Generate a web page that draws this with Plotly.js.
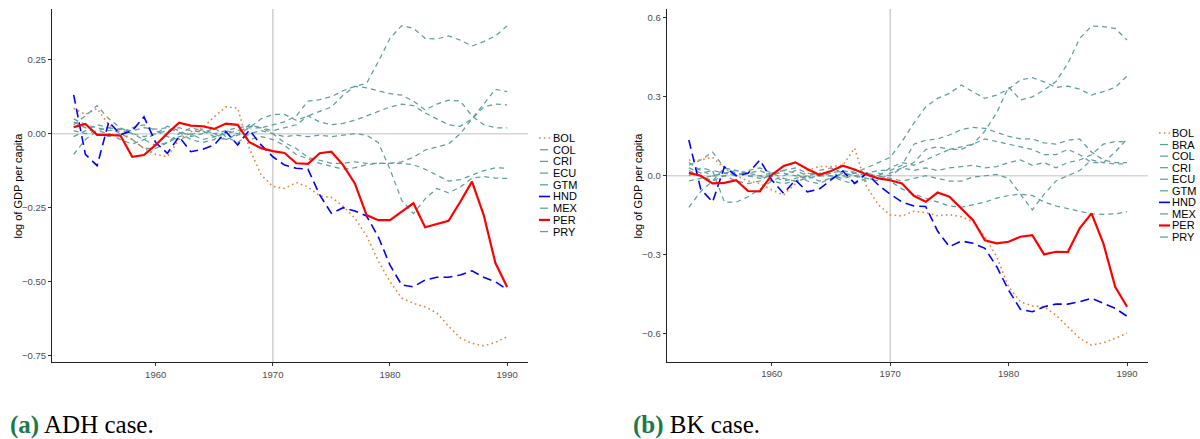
<!DOCTYPE html>
<html><head><meta charset="utf-8">
<script src="https://cdn.plot.ly/plotly-3.0.1.min.js"></script>
<style>html,body{margin:0;padding:0;background:#fff}#chart{width:1200px;height:439px}</style>
</head><body><div id="chart"></div>
<script>
const years = [1953,1954,1955,1956,1957,1958,1959,1960,1961,1962,1963,1964,1965,1966,1967,1968,1969,1970,1971,1972,1973,1974,1975,1976,1977,1978,1979,1980,1981,1982,1983,1984,1985,1986,1987,1988,1989,1990];

// ---------- Panel (a): ADH case ----------
const adhCountries = ['BOL','COL','CRI','ECU','GTM','HND','MEX','PER','PRY'];
const adhBOL = [0.086,0.065,0.085,0.03,0.005,-0.02,-0.05,-0.07,-0.078,-0.02,0.006,0.02,0.057,0.091,0.086,-0.05,-0.139,-0.178,-0.185,-0.165,-0.18,-0.21,-0.215,-0.245,-0.285,-0.345,-0.43,-0.5,-0.555,-0.573,-0.585,-0.605,-0.65,-0.69,-0.708,-0.716,-0.705,-0.686];
const adhCOL = [0.05,0.03,0.02,0.01,0.015,0.0,-0.01,0.0,0.01,0.02,0.01,0.005,0.0,0.01,0.02,0.025,0.02,0.01,0.02,0.03,0.06,0.04,0.03,0.035,0.045,0.06,0.075,0.09,0.1,0.095,0.07,0.05,0.03,0.025,0.05,0.09,0.1,0.097];
const adhCRI = [0.03,0.06,0.095,0.05,0.02,0.0,-0.02,-0.04,-0.03,-0.01,0.0,-0.02,-0.01,0.0,0.01,0.02,0.02,0.0,-0.03,-0.05,-0.08,-0.09,-0.1,-0.1,-0.095,-0.1,-0.1,-0.1,-0.095,-0.08,-0.055,-0.045,-0.035,0.0,0.05,0.1,0.15,0.142];
const adhECU = [-0.07,-0.02,0.01,0.02,0.015,0.01,0.02,0.015,0.02,0.005,-0.02,-0.03,-0.02,0.01,0.0,-0.02,-0.01,-0.02,-0.04,-0.07,-0.085,-0.1,-0.11,-0.12,-0.115,-0.105,-0.1,-0.1,-0.1,-0.105,-0.12,-0.14,-0.16,-0.155,-0.14,-0.125,-0.115,-0.117];
const adhGTM = [0.01,0.0,0.01,0.0,-0.02,-0.035,-0.02,0.0,0.025,0.01,-0.01,0.0,0.02,-0.01,-0.03,0.0,0.01,0.0,-0.01,-0.005,-0.01,-0.005,-0.01,-0.005,0.0,-0.005,-0.03,-0.12,-0.225,-0.27,-0.22,-0.185,-0.2,-0.18,-0.15,-0.145,-0.15,-0.151];
const adhHND = [0.131,-0.07,-0.108,0.04,-0.003,0.01,0.057,-0.03,-0.066,-0.01,-0.061,-0.053,-0.038,0.007,-0.038,0.012,-0.038,-0.078,-0.106,-0.117,-0.12,-0.207,-0.269,-0.25,-0.261,-0.278,-0.348,-0.444,-0.511,-0.517,-0.494,-0.485,-0.485,-0.477,-0.463,-0.485,-0.5,-0.526];
const adhMEX = [0.04,0.02,0.0,-0.01,0.0,0.02,0.03,0.01,-0.01,-0.02,-0.005,0.015,0.0,-0.02,0.0,0.03,0.02,0.03,0.04,0.06,0.11,0.115,0.125,0.145,0.16,0.17,0.243,0.322,0.365,0.356,0.322,0.32,0.33,0.316,0.296,0.311,0.33,0.364];
const adhPER = [0.022,0.033,-0.004,-0.004,-0.007,-0.078,-0.072,-0.038,0.001,0.037,0.027,0.025,0.016,0.034,0.03,-0.029,-0.049,-0.059,-0.065,-0.1,-0.102,-0.066,-0.061,-0.106,-0.168,-0.275,-0.292,-0.292,-0.263,-0.235,-0.316,-0.306,-0.294,-0.23,-0.162,-0.275,-0.437,-0.518];
const adhPRY = [-0.01,0.01,0.03,0.02,0.0,-0.02,-0.05,-0.05,-0.03,0.0,0.02,0.01,-0.01,-0.02,-0.005,0.02,0.05,0.065,0.065,0.045,0.06,0.075,0.09,0.13,0.16,0.155,0.145,0.135,0.13,0.11,0.08,0.1,0.113,0.11,0.06,0.03,0.02,0.02];

// ---------- Panel (b): BK case ----------
const bkCountries = ['BOL','BRA','COL','CRI','ECU','GTM','HND','MEX','PER','PRY'];
const bkBOL = [0.06,0.06,0.07,0.03,0.0,-0.02,-0.03,-0.054,-0.073,-0.03,0.02,0.035,0.035,0.04,0.105,-0.04,-0.11,-0.149,-0.153,-0.135,-0.14,-0.152,-0.148,-0.156,-0.175,-0.232,-0.308,-0.422,-0.479,-0.495,-0.498,-0.53,-0.574,-0.618,-0.644,-0.635,-0.618,-0.599];
const bkBRA = [0.02,0.0,-0.02,0.0,0.01,0.0,-0.01,0.0,0.02,0.03,0.01,0.0,0.01,0.02,0.01,0.03,0.05,0.07,0.13,0.2,0.262,0.294,0.313,0.345,0.319,0.294,0.307,0.33,0.364,0.373,0.357,0.336,0.341,0.329,0.307,0.32,0.336,0.379];
const bkCOL = [0.04,0.06,0.09,0.03,0.01,0.0,0.0,0.01,0.01,0.0,-0.01,0.0,0.0,-0.01,0.0,0.01,0.02,0.02,0.04,0.12,0.135,0.14,0.155,0.175,0.184,0.18,0.165,0.15,0.14,0.14,0.125,0.12,0.135,0.14,0.09,0.06,0.05,0.05];
const bkCRI = [-0.12,-0.06,-0.02,0.03,0.02,0.01,0.02,0.0,-0.02,-0.01,0.0,0.02,0.03,0.01,0.0,-0.02,0.0,-0.01,-0.02,-0.01,0.0,-0.01,-0.02,-0.02,-0.005,0.0,0.005,-0.01,-0.07,-0.13,-0.07,-0.02,0.0,0.02,0.06,0.05,0.045,0.045];
const bkECU = [0.0,0.03,0.02,-0.1,-0.1,-0.08,-0.05,-0.02,0.0,0.02,0.0,-0.02,-0.01,0.0,0.02,0.01,0.0,-0.02,-0.05,-0.07,-0.085,-0.1,-0.115,-0.12,-0.11,-0.1,-0.085,-0.075,-0.07,-0.075,-0.1,-0.115,-0.125,-0.135,-0.145,-0.147,-0.145,-0.137];
const bkGTM = [0.05,0.02,0.0,0.0,-0.02,-0.03,-0.02,0.01,0.02,0.01,-0.02,-0.03,-0.01,0.01,0.0,-0.01,-0.02,0.01,0.03,0.02,0.03,0.02,0.03,0.035,0.04,0.03,0.035,0.05,0.06,0.04,0.05,0.03,0.05,0.06,0.08,0.12,0.13,0.13];
const bkHND = [0.136,-0.05,-0.1,0.034,0.0,0.009,0.06,-0.016,-0.067,-0.016,-0.061,-0.051,-0.016,0.018,-0.029,0.009,-0.035,-0.07,-0.1,-0.115,-0.117,-0.21,-0.27,-0.248,-0.257,-0.276,-0.346,-0.435,-0.508,-0.517,-0.498,-0.488,-0.488,-0.479,-0.466,-0.485,-0.504,-0.534];
const bkMEX = [0.03,0.01,0.02,0.01,0.0,0.02,0.03,0.01,-0.01,-0.02,-0.01,0.0,0.01,-0.005,0.01,0.0,0.0,0.03,0.05,0.04,0.06,0.08,0.1,0.1,0.12,0.17,0.24,0.338,0.288,0.3,0.326,0.358,0.427,0.522,0.569,0.567,0.56,0.516];
const bkPER = [0.011,0.0,-0.029,-0.027,-0.017,-0.058,-0.059,0.003,0.037,0.051,0.026,0.004,0.018,0.038,0.024,0.005,-0.01,-0.017,-0.029,-0.076,-0.099,-0.064,-0.08,-0.124,-0.169,-0.245,-0.257,-0.251,-0.232,-0.226,-0.299,-0.289,-0.29,-0.2,-0.143,-0.257,-0.422,-0.498];
const bkPRY = [-0.02,-0.01,0.0,0.01,0.02,0.01,0.0,-0.02,-0.03,-0.02,0.0,0.01,0.0,-0.02,-0.03,-0.01,0.01,0.0,0.03,0.05,0.1,0.11,0.1,0.11,0.12,0.14,0.13,0.12,0.11,0.1,0.08,0.08,0.1,0.08,0.05,0.05,0.09,0.14];

const yTitle = 'log of GDP per capita';
const adhYTicks = [-0.75,-0.5,-0.25,0,0.25];
const bkYTicks = [-0.6,-0.3,0,0.3,0.6];
const xTicks = [1960,1970,1980,1990];

const adhSeries = {BOL:adhBOL,COL:adhCOL,CRI:adhCRI,ECU:adhECU,GTM:adhGTM,HND:adhHND,MEX:adhMEX,PER:adhPER,PRY:adhPRY};
const bkSeries = {BOL:bkBOL,BRA:bkBRA,COL:bkCOL,CRI:bkCRI,ECU:bkECU,GTM:bkGTM,HND:bkHND,MEX:bkMEX,PER:bkPER,PRY:bkPRY};

// ---------- styles ----------
const TEAL = '#5f9ea0';
function styleOf(c){
  if(c==='BOL') return {color:'#e8823c', dash:'1.6px,3.2px', width:1.6};
  if(c==='HND') return {color:'#0000ff', dash:'9px,5px', width:1.6};
  if(c==='PER') return {color:'#ff0000', dash:'solid', width:2.2};
  return {color:TEAL, dash:'5px,4px', width:1.25};
}
function drawOrder(list){ // teal lines underneath, highlighted on top
  const rank = c => c==='PER'?3 : c==='HND'?2 : c==='BOL'?1 : 0;
  return list.slice().sort((a,b)=>rank(a)-rank(b));
}

const W=1200, H=439;
const fx = p => p/W, fy = p => 1 - p/H;

const traces = [];
drawOrder(adhCountries).forEach(c=>{
  const s=styleOf(c);
  traces.push({x:years, y:adhSeries[c], type:'scatter', mode:'lines', name:c, xaxis:'x', yaxis:'y',
    line:{color:s.color, dash:s.dash, width:s.width}, showlegend:false, hoverinfo:'skip'});
});
drawOrder(bkCountries).forEach(c=>{
  const s=styleOf(c);
  traces.push({x:years, y:bkSeries[c], type:'scatter', mode:'lines', name:c, xaxis:'x2', yaxis:'y2',
    line:{color:s.color, dash:s.dash, width:s.width}, showlegend:false, hoverinfo:'skip'});
});

const FONT = 'Liberation Sans, Arial, sans-serif';
const axisBase = {showgrid:false, zeroline:false, showline:true, linecolor:'#222', linewidth:1.1,
  ticks:'outside', ticklen:3, tickwidth:1, tickcolor:'#333',
  tickfont:{family:FONT, size:9.5, color:'#4d4d4d'}, fixedrange:true};

const shapes = [];
const annotations = [];
// reference lines
[['x','y'],['x2','y2']].forEach(([xa,ya])=>{
  shapes.push({type:'line', xref:xa, yref:ya+' domain', x0:1970, x1:1970, y0:0, y1:1, line:{color:'#cfcfcf', width:1.5}, layer:'below'});
  shapes.push({type:'line', xref:xa+' domain', yref:ya, x0:0, x1:1, y0:0, y1:0, line:{color:'#d6d6d6', width:1.5}, layer:'below'});
});

// y-axis titles placed precisely
annotations.push({xref:'paper', yref:'paper', x:fx(17), y:fy(185.5), xanchor:'center', yanchor:'middle', textangle:-90,
  showarrow:false, text:yTitle, font:{family:FONT, size:11, color:'#000'}});
annotations.push({xref:'paper', yref:'paper', x:fx(637), y:fy(185.5), xanchor:'center', yanchor:'middle', textangle:-90,
  showarrow:false, text:yTitle, font:{family:FONT, size:11, color:'#000'}});

// custom compact legends
function legend(list, symX0, symX1, textX, y0, step){
  list.forEach((c,i)=>{
    const s=styleOf(c), y=y0+i*step;
    let dash=s.dash, x0=symX0, x1=symX1;
    if(c!=='BOL' && c!=='HND' && c!=='PER'){ dash='solid'; x0=symX0+1; x1=symX1-2; }
    if(c==='HND'||c==='PER'){ dash='solid'; }
    shapes.push({type:'line', xref:'paper', yref:'paper', x0:fx(x0), x1:fx(x1), y0:fy(y), y1:fy(y),
      line:{color:s.color, width:s.width, dash:dash}});
    annotations.push({xref:'paper', yref:'paper', x:fx(textX), y:fy(y), xanchor:'left', yanchor:'middle',
      text:c, showarrow:false, font:{family:FONT, size:11, color:'#000'}});
  });
}
legend(adhCountries, 539, 550, 551, 138, 11.7);
legend(bkCountries, 1159, 1170, 1170, 133, 11.56);

// captions
const GREEN = '#1b7a48';
annotations.push({xref:'paper', yref:'paper', x:fx(8), y:fy(425), xanchor:'left', yanchor:'middle', showarrow:false,
  text:'<span style="color:'+GREEN+'"><b>(a)</b></span> ADH case.', font:{family:'Liberation Serif, serif', size:25, color:'#000'}});
annotations.push({xref:'paper', yref:'paper', x:fx(631), y:fy(425), xanchor:'left', yanchor:'middle', showarrow:false,
  text:'<span style="color:'+GREEN+'"><b>(b)</b></span> BK case.', font:{family:'Liberation Serif, serif', size:25, color:'#000'}});

const layout = {
  width:W, height:H, margin:{l:0,r:0,t:0,b:0}, paper_bgcolor:'#fff', plot_bgcolor:'#fff',
  showlegend:false, font:{family:FONT},
  xaxis:Object.assign({}, axisBase, {domain:[fx(52), fx(528)], range:[1951.15,1991.78], tickvals:xTicks, anchor:'y'}),
  yaxis:Object.assign({}, axisBase, {domain:[fy(362), fy(9)], range:[-0.771,0.421], tickvals:adhYTicks, tickformat:'.2f', anchor:'x'}),
  xaxis2:Object.assign({}, axisBase, {domain:[fx(666.7), fx(1148)], range:[1951.13,1991.77], tickvals:xTicks, anchor:'y2'}),
  yaxis2:Object.assign({}, axisBase, {domain:[fy(361.7), fy(9)], range:[-0.707,0.634], tickvals:bkYTicks, tickformat:'.1f', anchor:'x2'}),
  shapes:shapes, annotations:annotations
};
Plotly.newPlot('chart', traces, layout, {staticPlot:true, displayModeBar:false});
</script>
</body></html>
